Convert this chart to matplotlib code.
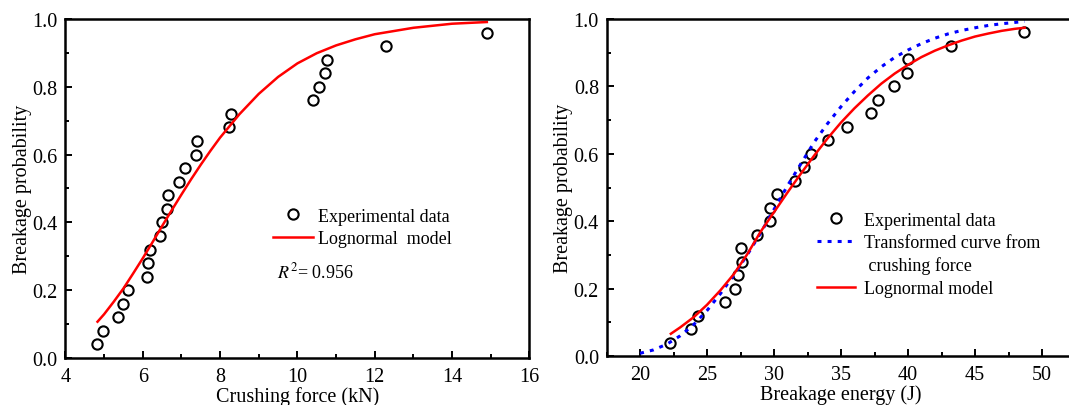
import matplotlib
matplotlib.use("Agg")
import matplotlib.pyplot as plt
from matplotlib.lines import Line2D
from matplotlib.ticker import MultipleLocator

plt.rcParams['font.family'] = ['Liberation Serif', 'DejaVu Serif']
plt.rcParams['mathtext.fontset'] = 'stix'

# breakage probability levels (same for both panels)
prob = [0.04, 0.08, 0.12, 0.16, 0.20, 0.24, 0.28, 0.32, 0.36, 0.40, 0.44, 0.48,
        0.52, 0.56, 0.60, 0.64, 0.68, 0.72, 0.76, 0.80, 0.84, 0.88, 0.92, 0.96]

# left panel: crushing force (kN)
force = [4.82, 4.96, 5.36, 5.50, 5.63, 6.12, 6.14, 6.19, 6.44, 6.49, 6.62, 6.65,
         6.94, 7.10, 7.38, 7.41, 8.22, 8.27, 10.41, 10.57, 10.72, 10.76, 12.29, 14.90]
force_fit_x = [4.83, 5.0, 5.25, 5.5, 5.75, 6.0, 6.25, 6.5, 6.75, 7.0, 7.25, 7.5, 7.75,
               8.0, 8.5, 9.0, 9.5, 10.0, 10.5, 11.0, 11.5, 12.0, 13.0, 14.0, 14.9]
force_fit_y = [0.107, 0.129, 0.166, 0.205, 0.249, 0.294, 0.341, 0.389, 0.436, 0.482,
               0.527, 0.570, 0.611, 0.650, 0.719, 0.779, 0.829, 0.869, 0.899, 0.922,
               0.940, 0.955, 0.974, 0.986, 0.991]

# right panel: breakage energy (J)
energy = [22.27, 23.78, 24.31, 26.31, 27.12, 27.33, 27.58, 27.53, 28.76, 29.68, 29.70, 30.21,
          31.57, 32.23, 32.74, 34.04, 35.42, 37.21, 37.79, 38.99, 39.94, 39.99, 43.18, 48.64]
energy_fit_x = [22.3, 23, 24, 25, 26, 27, 28, 29, 30, 31, 32, 33, 34, 35, 36, 37, 38,
                39, 40, 41, 42, 43, 44, 45, 46, 47, 48, 48.7]
energy_fit_y = [0.066, 0.085, 0.115, 0.152, 0.195, 0.243, 0.302, 0.369, 0.427, 0.485,
                0.541, 0.595, 0.646, 0.693, 0.735, 0.773, 0.808, 0.838, 0.864, 0.887,
                0.906, 0.922, 0.936, 0.948, 0.957, 0.965, 0.971, 0.974]
trans_x = [20, 21, 22, 23, 24, 25, 26, 27, 28, 29, 30, 31, 32, 33, 34, 35, 36, 37, 38,
           39, 40, 41, 42, 43, 44, 45, 46, 47, 48, 48.7]
trans_y = [0.008, 0.018, 0.035, 0.060, 0.093, 0.135, 0.185, 0.240, 0.300, 0.365, 0.435,
           0.505, 0.570, 0.635, 0.690, 0.740, 0.785, 0.825, 0.858, 0.886, 0.908, 0.927,
           0.943, 0.956, 0.966, 0.974, 0.981, 0.986, 0.990, 0.993]

fig = plt.figure(figsize=(10.69, 4.06), dpi=100)
ax1 = fig.add_axes([0.0612, 0.1158, 0.4340, 0.835])
ax2 = fig.add_axes([0.5674, 0.1207, 0.4387, 0.830])

mk = dict(marker='o', ms=7.4, mfc='none', mec='black', mew=1.5, ls='none')

for ax in (ax1, ax2):
    ax.set_ylim(0, 1.0)
    ax.yaxis.set_major_locator(MultipleLocator(0.2))
    ax.yaxis.set_minor_locator(MultipleLocator(0.1))
    ax.yaxis.set_major_formatter(plt.FormatStrFormatter('%.1f'))
    ax.tick_params(which='both', direction='in', width=1.4, labelsize=14.5,
                   top=False, right=False)
    ax.tick_params(which='major', length=5)
    ax.tick_params(which='minor', length=3)
    ax.tick_params(axis='x', which='major', pad=6.5)
    ax.tick_params(axis='y', which='major', pad=5.5)
    for s in ax.spines.values():
        s.set_linewidth(1.8)
    ax.set_ylabel('Breakage probability', fontsize=14.5, labelpad=0.5)

# left
ax1.plot(force, prob, **mk, label='Experimental data')
ax1.plot(force_fit_x, force_fit_y, color='red', lw=1.8, label='Lognormal  model')
ax1.set_xlim(4, 16)
ax1.xaxis.set_major_locator(MultipleLocator(2))
ax1.xaxis.set_minor_locator(MultipleLocator(1))
ax1.set_xlabel('Crushing force (kN)', fontsize=14.5, labelpad=0)
ax1.legend(loc='upper left', bbox_to_anchor=(0.4475, 0.443), frameon=False,
           fontsize=13, borderpad=0, borderaxespad=0, handlelength=2.2,
           handletextpad=0.3, labelspacing=0.3)
ax1.text(9.48, 0.254, r'$R^2$= 0.956', fontsize=13, va='center')

# right
h_exp, = ax2.plot(energy, prob, **mk)
h_tr, = ax2.plot(trans_x, trans_y, color='blue', lw=2.2, ls=(0, (1.3, 2.0)))
h_ln, = ax2.plot(energy_fit_x, energy_fit_y, color='red', lw=1.8)
blank = Line2D([], [], ls='none')
ax2.set_xlim(17.5, 52.5)
ax2.xaxis.set_major_locator(MultipleLocator(5))
ax2.xaxis.set_minor_locator(MultipleLocator(2.5))
ax2.set_xlabel('Breakage energy (J)', fontsize=14.5, labelpad=0)
ax2.legend([h_exp, h_tr, blank, h_ln],
           ['Experimental data', 'Transformed curve from', ' crushing force', 'Lognormal model'],
           loc='upper left', bbox_to_anchor=(0.4486, 0.428), frameon=False,
           fontsize=13, borderpad=0, borderaxespad=0, handlelength=2.1,
           handletextpad=0.5, labelspacing=0.3)

fig.savefig('out.png', dpi=100)
